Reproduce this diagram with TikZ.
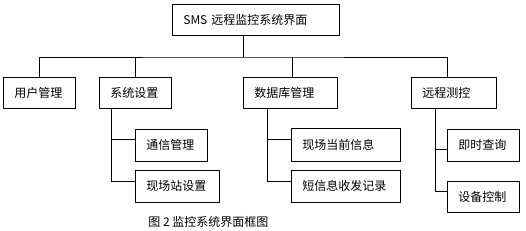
\documentclass[tikz,border=0pt]{standalone}
\usepackage{fontspec}
\newfontfamily\cjk{Noto Sans CJK SC}
\usepackage{tikz}
\usetikzlibrary{positioning}

\begin{document}
\begin{tikzpicture}[x=1pt,y=-1pt,line width=0.7pt,
  box/.style={draw,font=\cjk\fontsize{12pt}{14pt}\selectfont,anchor=north west,inner xsep=11pt,inner ysep=0pt,align=left,minimum height=31pt}]
\useasboundingbox (0,0) rectangle (526,230);
\node (top) [box,text width=145pt] at (172,4) {SMS 远程监控系统界面};
\node (user) [box,text width=50pt] at (3,77) {用户管理};
\node (sys) [box,text width=50pt] at (99,77) {系统设置};
\node (db) [box,text width=72pt] at (243,77) {数据库管理};
\node (remote) [box,text width=63pt] at (411,77) {远程测控};
\node (comm) [box,text width=50pt,minimum height=32pt] at (135,129) {通信管理};
\node (station) [box,text width=62pt,minimum height=32pt] at (135,170) {现场站设置};
\node (now) [box,text width=87pt,minimum height=33pt] at (291,128) {现场当前信息};
\node (sms) [box,text width=87pt,minimum height=32pt] at (291,170) {短信息收发记录};
\node (query) [box,text width=50pt,minimum height=32pt] at (447,129) {即时查询};
\node (ctrl) [box,text width=50pt] at (447,181) {设备控制};
\node (cap) [anchor=west,font=\cjk\fontsize{12pt}{14pt}\selectfont,inner sep=0pt] at (148,222) {图 2 监控系统界面框图};
\coordinate (hub) at (243,57);
\draw (hub |- top.south) -- (hub);
\draw (user.north) |- (hub) -| ([xshift=-6.5pt]remote.north);
\draw (sys.north) -- (sys.north |- hub);
\draw ([xshift=2pt]db.north) -- ([xshift=2pt]db.north |- hub);
\draw (sys.south west) ++(12,0) |- ([yshift=5pt]station.west);
\draw ([yshift=6pt]comm.west) -- ++(-24,0);
\draw (db.south west) ++(24,0) |- ([yshift=5pt]sms.west);
\draw ([yshift=5.5pt]now.west) -- ++(-24,0);
\draw (remote.south west) ++(24,0) |- ([yshift=5.5pt]ctrl.west);
\draw ([yshift=-4pt]query.west) -- ++(-12,0);
\end{tikzpicture}
\end{document}
